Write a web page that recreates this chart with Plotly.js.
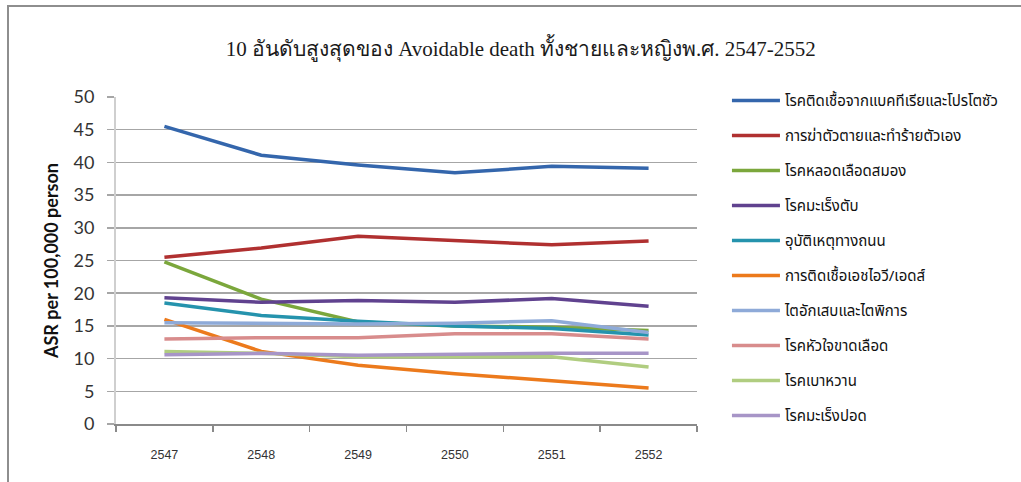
<!DOCTYPE html>
<html>
<head>
<meta charset="utf-8">
<script src="https://cdn.plot.ly/plotly-3.0.1.min.js"></script>
<style>
  html, body { margin: 0; padding: 0; background: #ffffff; }
  #wrap { position: relative; width: 1021px; height: 482px; overflow: hidden; }
  #chart { position: absolute; left: 0; top: 0; width: 1021px; height: 482px; }
  #frame { position: absolute; left: 7px; top: 5px; width: 1100px; height: 600px;
           border-left: 2px solid #8e8e8e; border-top: 2px solid #8e8e8e; pointer-events: none; }
</style>
</head>
<body>
<div id="wrap">
  <div id="chart"></div>
  <div id="frame"></div>
</div>
<script>
// Years (Buddhist Era)
const years = ['2547', '2548', '2549', '2550', '2551', '2552'];

// Age-standardised rate per 100,000 persons, by cause
const bacterialProtozoal = [45.5, 41.1, 39.6, 38.4, 39.4, 39.1];
const suicideSelfHarm    = [25.5, 26.9, 28.7, 28.0, 27.4, 28.0];
const stroke             = [24.8, 19.1, 15.6, 15.0, 14.8, 14.3];
const liverCancer        = [19.3, 18.6, 18.9, 18.6, 19.2, 18.0];
const roadAccident       = [18.5, 16.6, 15.7, 15.0, 14.6, 13.6];
const hivAids            = [16.0, 11.1, 9.0, 7.7, 6.6, 5.5];
const kidneyDisease      = [15.5, 15.4, 15.3, 15.4, 15.8, 14.0];
const ischemicHeart      = [13.0, 13.2, 13.2, 13.8, 13.8, 13.0];
const diabetes           = [11.1, 10.8, 10.3, 10.3, 10.3, 8.7];
const lungCancer         = [10.6, 10.8, 10.5, 10.7, 10.8, 10.8];

const seriesNames = [
  'โรคติดเชื้อจากแบคทีเรียและโปรโตซัว',
  'การฆ่าตัวตายและทำร้ายตัวเอง',
  'โรคหลอดเลือดสมอง',
  'โรคมะเร็งตับ',
  'อุบัติเหตุทางถนน',
  'การติดเชื้อเอชไอวี/เอดส์',
  'ไตอักเสบและไตพิการ',
  'โรคหัวใจขาดเลือด',
  'โรคเบาหวาน',
  'โรคมะเร็งปอด'
];
const seriesValues = [
  bacterialProtozoal, suicideSelfHarm, stroke, liverCancer, roadAccident,
  hivAids, kidneyDisease, ischemicHeart, diabetes, lungCancer
];
const seriesColors = [
  '#3466ac', '#b03030', '#7ba73c', '#60428f', '#2593ad',
  '#ec7a1c', '#8eaad8', '#d88c8c', '#b0cd80', '#a795c7'
];

const thaiFont = 'Tahoma, "Noto Sans Thai", "Noto Sans", "DejaVu Sans", sans-serif';

// one legend group per cause so the legend rows can be spaced apart
const traces = seriesNames.map((name, i) => ({
  type: 'scatter',
  mode: 'lines',
  name: name,
  x: years,
  y: seriesValues[i],
  legendgroup: 'g' + i,
  line: { color: seriesColors[i], width: 3.5 },
  hoverinfo: 'name+y'
}));

const layout = {
  width: 1021,
  height: 482,
  paper_bgcolor: '#ffffff',
  plot_bgcolor: '#ffffff',
  margin: { l: 116, r: 324, t: 97, b: 58 },
  title: {
    text: '10 อันดับสูงสุดของ Avoidable death ทั้งชายและหญิงพ.ศ. 2547-2552',
    font: { family: '"Liberation Serif", "DejaVu Serif", serif', size: 21, color: '#1a1a1a' },
    x: 0.51, xanchor: 'center', xref: 'container',
    y: 0.9, yanchor: 'middle', yref: 'container'
  },
  xaxis: {
    type: 'category',
    range: [-0.5, 5.5],
    tickson: 'boundaries',
    ticks: 'outside',
    ticklen: 6,
    tickcolor: '#8a8a8a',
    tickwidth: 1.5,
    showline: true,
    linecolor: '#8a8a8a',
    linewidth: 1.5,
    showgrid: false,
    zeroline: false,
    ticklabelstandoff: 18,
    tickfont: { family: '"Liberation Sans", Arial, sans-serif', size: 12.5, color: '#333333' },
    fixedrange: true
  },
  yaxis: {
    range: [0, 50],
    dtick: 5,
    tick0: 0,
    ticks: 'outside',
    ticklen: 7,
    tickcolor: '#a6a6a6',
    tickwidth: 1.5,
    showline: true,
    linecolor: '#cfcfcf',
    linewidth: 2,
    showgrid: true,
    gridcolor: '#a6a6a6',
    gridwidth: 1.5,
    zeroline: false,
    ticklabelstandoff: 9,
    tickfont: { family: 'Lato, "Open Sans", sans-serif', size: 18, color: '#333333' },
    title: {
      text: 'ASR per 100,000 person',
      font: { family: 'Lato, "Open Sans", sans-serif', size: 18, color: '#111111', weight: 'bold' },
      standoff: 10
    },
    fixedrange: true
  },
  legend: {
    xref: 'container', yref: 'container',
    x: 0.712, xanchor: 'left',
    y: 0.825, yanchor: 'top',
    maxheight: 1,
    font: { family: thaiFont, size: 15, color: '#111111' },
    traceorder: 'grouped',
    tracegroupgap: 12.5,
    itemwidth: 48,
    bgcolor: 'rgba(0,0,0,0)'
  },
  showlegend: true
};

Plotly.newPlot('chart', traces, layout, { displayModeBar: false, staticPlot: true });
</script>
</body>
</html>
